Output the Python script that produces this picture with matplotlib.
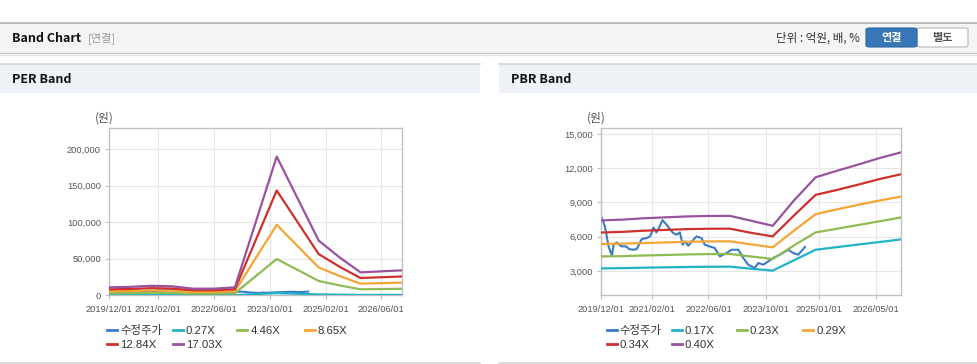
import matplotlib
matplotlib.use("Agg")
import matplotlib.pyplot as plt
from matplotlib.patches import Rectangle, FancyBboxPatch
from matplotlib.lines import Line2D
from matplotlib.ticker import FuncFormatter
import pandas as pd

plt.rcParams['font.family'] = ['Liberation Sans', 'Noto Sans CJK KR']

# ---------------- data ----------------
price_dates = ['2019-12-01', '2020-01-01', '2020-02-01', '2020-03-01', '2020-03-15', '2020-04-10',
               '2020-05-20', '2020-07-01', '2020-07-25', '2020-09-01', '2020-09-28', '2020-11-10',
               '2020-12-20', '2021-01-20', '2021-02-18', '2021-03-15', '2021-04-05', '2021-05-05',
               '2021-06-10', '2021-07-12', '2021-08-05', '2021-09-03', '2021-10-01', '2021-10-25',
               '2021-11-12', '2021-12-12', '2022-01-10', '2022-02-20', '2022-04-03', '2022-05-01',
               '2022-06-12', '2022-07-25', '2022-09-06', '2022-11-03', '2022-12-15', '2023-02-12',
               '2023-03-25', '2023-05-06', '2023-07-01', '2023-07-31', '2023-09-12', '2023-10-25',
               '2023-12-06', '2024-02-01', '2024-04-12', '2024-05-24', '2024-07-06', '2024-09-01']
price_values = [7780, 6900, 5150, 4350, 5300, 5500,
                5160, 5150, 4920, 4860, 4920, 5800,
                5880, 6030, 6800, 6380, 6760, 7450,
                7050, 6610, 6320, 6180, 6380, 5300,
                5590, 5210, 5590, 6030, 5880, 5300,
                5150, 5010, 4280, 4570, 4860, 4860,
                4140, 3550, 3260, 3700, 3550, 3850,
                4140, 4430, 4860, 4570, 4430, 5100]

per_dates = ['2019-12-01', '2020-06-01', '2020-12-01', '2021-06-01', '2021-12-01', '2022-06-01',
             '2022-12-01', '2023-12-01', '2024-12-01', '2025-06-01', '2025-12-01', '2026-06-01',
             '2026-12-01']
per_labels = ['0.27X', '4.46X', '8.65X', '12.84X', '17.03X']
per_band_027 = [173, 182, 206, 195, 144, 144, 173, 3010, 1190, 824, 498, 520, 542]
per_band_446 = [2850, 3010, 3400, 3220, 2380, 2380, 2850, 49700, 19640, 13620, 8220, 8590, 8960]
per_band_865 = [5540, 5840, 6600, 6250, 4620, 4620, 5540, 96500, 38100, 26400, 15950, 16660, 17370]
per_band_1284 = [8220, 8660, 9800, 9270, 6860, 6860, 8220, 143500, 56500, 39200, 23700, 24700, 25800]
per_band_1703 = [10900, 11500, 13000, 12300, 9100, 9100, 10900, 190000, 75000, 52000, 31400, 32800, 34200]

pbr_dates = ['2019-12-01', '2020-06-01', '2020-12-01', '2021-06-01', '2021-12-01', '2022-06-01',
             '2022-12-01', '2023-06-01', '2023-12-01', '2024-06-01', '2024-12-01', '2025-06-01',
             '2025-12-01', '2026-06-01', '2026-12-01']
pbr_labels = ['0.17X', '0.23X', '0.29X', '0.34X', '0.40X']
pbr_band_017 = [3230, 3250, 3290, 3320, 3350, 3370, 3380, 3200, 3030, 3950, 4860, 5090, 5320, 5540, 5770]
pbr_band_023 = [4280, 4300, 4360, 4400, 4450, 4480, 4490, 4270, 4050, 5250, 6380, 6700, 7030, 7360, 7690]
pbr_band_029 = [5360, 5400, 5450, 5500, 5560, 5590, 5600, 5330, 5070, 6550, 7980, 8400, 8800, 9180, 9520]
pbr_band_034 = [6370, 6430, 6530, 6600, 6670, 6700, 6710, 6340, 6030, 7880, 9670, 10100, 10570, 11060, 11480]
pbr_band_040 = [7430, 7500, 7620, 7700, 7780, 7820, 7830, 7400, 6960, 9200, 11210, 11780, 12330, 12900, 13400]

price_label = '수정주가'
per_xticks = ['2019/12/01', '2021/02/01', '2022/06/01', '2023/10/01', '2025/02/01', '2026/06/01']
pbr_xticks = ['2019/12/01', '2021/02/01', '2022/06/01', '2023/10/01', '2025/01/01', '2026/05/01']
per_yticks = [0, 50000, 100000, 150000, 200000]
pbr_yticks = [3000, 6000, 9000, 12000, 15000]

colors = ['#3a7bc6', '#22b2c6', '#8fbb53', '#f5a535', '#cf302c', '#98539f']

# ---------------- layout helpers ----------------
W, H = 978, 364
fig = plt.figure(figsize=(W / 100, H / 100), dpi=100)
fig.patch.set_facecolor('white')


def rect(x0, y0, x1, y1, fc, ec='none', lw=0, z=0):
    fig.patches.append(Rectangle((x0 / W, 1 - y1 / H), (x1 - x0) / W, (y1 - y0) / H,
                                 transform=fig.transFigure, facecolor=fc, edgecolor=ec,
                                 linewidth=lw, zorder=z))


def hline(x0, x1, y, color, lw=1.0):
    fig.add_artist(Line2D([x0 / W, x1 / W], [1 - y / H, 1 - y / H], color=color, lw=lw,
                          transform=fig.transFigure))


def text(x, y, s, **kw):
    fig.text(x / W, 1 - y / H, s, **kw)


# top header
rect(0, 22, W, 53, '#f4f4f4')
hline(0, W, 22.5, '#b4b4b4', 1.2)
hline(0, W, 53.3, '#c8c8c8', 1.0)
hline(0, W, 54.5, '#e6e6e6', 1.0)
text(12, 38, 'Band Chart', fontsize=9, fontweight='bold', color='#111111',
     family=['Noto Sans CJK KR'], va='center')
text(88, 38, '[연결]', fontsize=8, color='#999999', family=['Noto Sans CJK KR'], va='center')
text(860, 38, '단위 : 억원, 배, %', fontsize=8.3, color='#333333',
     family=['Noto Sans CJK KR'], va='center', ha='right')
fig.patches.append(FancyBboxPatch((917 / W, 1 - 47 / H), 51 / W, 19 / H,
                                  boxstyle='round,pad=0,rounding_size=0.004',
                                  transform=fig.transFigure, facecolor='white',
                                  edgecolor='#b8b8b8', linewidth=0.8))
fig.patches.append(FancyBboxPatch((866 / W, 1 - 47 / H), 51 / W, 19 / H,
                                  boxstyle='round,pad=0,rounding_size=0.004',
                                  transform=fig.transFigure, facecolor='#3876b8',
                                  edgecolor='#2e67a3', linewidth=0.8))
text(891.5, 37.5, '연결', fontsize=8, color='white', fontweight='bold',
     family=['Noto Sans CJK KR'], va='center', ha='center')
text(942.5, 37.5, '별도', fontsize=8, color='#555555', fontweight='bold',
     family=['Noto Sans CJK KR'], va='center', ha='center')

# panels
for (px0, px1, title) in [(0, 480, 'PER Band'), (499, 978, 'PBR Band')]:
    rect(px0, 64, px1, 92.5, '#eef2f7')
    hline(px0, px1, 64, '#d4d4d4', 1.2)
    hline(px0, px1, 363, '#d4d4d4', 1.2)
    text(px0 + 12, 79.5, title, fontsize=9, fontweight='bold', color='#111111',
         family=['Noto Sans CJK KR'], va='center')


def make_axes(x0, x1, y0, y1):
    return fig.add_axes([x0 / W, 1 - y1 / H, (x1 - x0) / W, (y1 - y0) / H])


def style_axes(ax, xtick_labels, yticks, ylim):
    ax.set_facecolor('white')
    xt = pd.to_datetime([s.replace('/', '-') for s in xtick_labels])
    ax.set_xlim(pd.Timestamp('2019-12-01'), pd.Timestamp('2026-12-01'))
    ax.set_xticks(xt)
    ax.set_xticklabels(xtick_labels)
    ax.set_ylim(*ylim)
    ax.set_yticks(yticks)
    ax.yaxis.set_major_formatter(FuncFormatter(lambda v, p: f'{int(v):,}'))
    ax.grid(True, color='#e6e6e6', lw=0.8, zorder=0)
    ax.set_axisbelow(True)
    for s in ax.spines.values():
        s.set_color('#c0c0c0')
        s.set_linewidth(1.0)
    ax.tick_params(axis='both', labelsize=6.7, labelcolor='#555555', color='#c0c0c0',
                   length=3, width=0.8)
    ax.tick_params(axis='x', pad=4)
    ax.tick_params(axis='y', pad=3)


def draw_legend(x_positions, labels, cols):
    for (x, y), lab, c in zip(x_positions, labels, cols):
        hline(x, x + 10, y, c, 2.0)
        text(x + 13, y + 0.5, lab, fontsize=8.2, color='#333333', va='center',
             family=['Liberation Sans', 'Noto Sans CJK KR'])


# PER chart
ax1 = make_axes(109.3, 402.3, 128.3, 295.3)
style_axes(ax1, per_xticks, per_yticks, (0, 228700))
pdts = pd.to_datetime(price_dates)
ax1.plot(pdts, price_values, color=colors[0], lw=1.5, zorder=2)
per_series = [per_band_027, per_band_446, per_band_865, per_band_1284, per_band_1703]
perd = pd.to_datetime(per_dates)
for i, vals in enumerate(per_series):
    ax1.plot(perd, vals, color=colors[i + 1], lw=1.6, zorder=3 + i)
text(104, 118, '(원)', fontsize=8.5, color='#555555', ha='center', va='center',
     family=['Noto Sans CJK KR'])

# PBR chart
ax2 = make_axes(601.3, 901.3, 128.3, 295.3)
style_axes(ax2, pbr_xticks, pbr_yticks, (870, 15500))
ax2.plot(pdts, price_values, color=colors[0], lw=1.5, zorder=2)
pbr_series = [pbr_band_017, pbr_band_023, pbr_band_029, pbr_band_034, pbr_band_040]
pbrd = pd.to_datetime(pbr_dates)
for i, vals in enumerate(pbr_series):
    ax2.plot(pbrd, vals, color=colors[i + 1], lw=1.6, zorder=3 + i)
text(596, 118, '(원)', fontsize=8.5, color='#555555', ha='center', va='center',
     family=['Noto Sans CJK KR'])

# legends
per_pos = [(107, 330), (172.7, 330), (237.3, 330), (305, 330), (107, 344), (172.7, 344)]
draw_legend(per_pos, [price_label] + per_labels, colors)
pbr_pos = [(606.7, 330), (672, 330), (736.7, 330), (803.3, 330), (606.7, 344), (672, 344)]
draw_legend(pbr_pos, [price_label] + pbr_labels, colors)

fig.savefig('out.png', dpi=100, facecolor='white')
